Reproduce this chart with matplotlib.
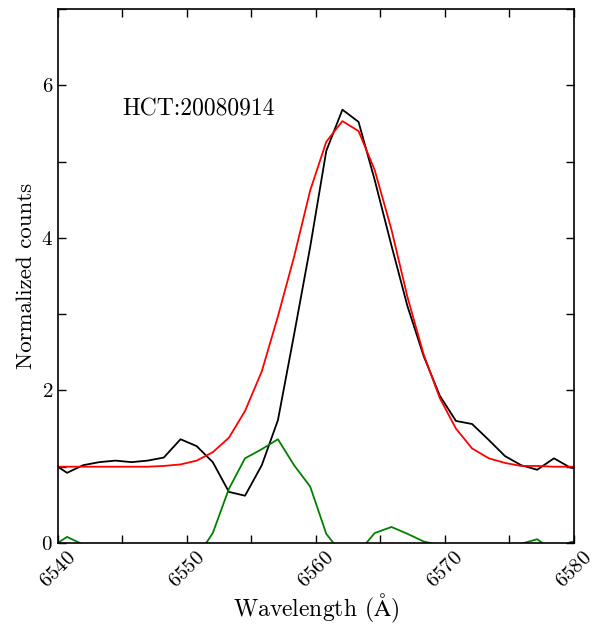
import matplotlib
matplotlib.use('Agg')
import matplotlib.pyplot as plt
from matplotlib.ticker import MultipleLocator

plt.rcParams['font.family'] = ['cmr10', 'DejaVu Serif']
plt.rcParams['mathtext.fontset'] = 'cm'
plt.rcParams['axes.unicode_minus'] = False
plt.rcParams['axes.formatter.use_mathtext'] = True

# wavelength grid (A)
wave = [6539.45, 6540.70, 6541.95, 6543.20, 6544.45, 6545.70, 6546.95, 6548.20,
        6549.50, 6550.75, 6552.00, 6553.25, 6554.50, 6555.80, 6557.05, 6558.30,
        6559.55, 6560.80, 6562.05, 6563.30, 6564.55, 6565.85, 6567.10, 6568.35,
        6569.60, 6570.85, 6572.10, 6573.40, 6574.65, 6575.90, 6577.15, 6578.45,
        6579.70, 6580.95]

# observed profile (black)
observed = [1.06, 0.92, 1.02, 1.06, 1.08, 1.06, 1.08, 1.12,
            1.36, 1.27, 1.06, 0.67, 0.62, 1.02, 1.61, 2.73,
            3.88, 5.14, 5.68, 5.52, 4.76, 3.90, 3.10, 2.45,
            1.93, 1.60, 1.56, 1.35, 1.14, 1.02, 0.96, 1.11,
            0.99, 0.95]

# template / fit (red)
template = [1.00, 1.00, 1.00, 1.00, 1.00, 1.00, 1.00, 1.01,
            1.03, 1.08, 1.19, 1.38, 1.73, 2.25, 2.97, 3.75,
            4.62, 5.26, 5.53, 5.40, 4.89, 4.11, 3.22, 2.47,
            1.90, 1.50, 1.24, 1.11, 1.05, 1.01, 1.01, 1.00,
            1.00, 1.00]

# difference (green)
diff = [-0.06, 0.08, -0.02, -0.06, -0.08, -0.06, -0.08, -0.11,
        -0.33, -0.19, 0.13, 0.71, 1.11, 1.23, 1.36, 1.02,
        0.74, 0.12, -0.15, -0.12, 0.13, 0.21, 0.12, 0.02,
        -0.03, -0.10, -0.32, -0.24, -0.09, -0.01, 0.05, -0.11,
        0.01, 0.05]

fig = plt.figure(figsize=(5.99, 6.24), dpi=100)
ax = fig.add_axes([0.0968, 0.1298, 0.8614, 0.8558])

ax.plot(wave, observed, color='k', lw=1.3)
ax.plot(wave, template, color='r', lw=1.3)
ax.plot(wave, diff, color='g', lw=1.3)

ax.set_xlim(6540, 6580)
ax.set_ylim(0, 7)

ax.xaxis.set_major_locator(MultipleLocator(10))
ax.xaxis.set_minor_locator(MultipleLocator(5))
ax.yaxis.set_major_locator(MultipleLocator(2))
ax.yaxis.set_minor_locator(MultipleLocator(1))
ax.tick_params(which='both', direction='in', top=True, right=True,
               length=6, width=1, labelsize=15)
ax.tick_params(axis='x', which='major', pad=4)
for lab in ax.get_xticklabels():
    lab.set_rotation(45)
for sp in ax.spines.values():
    sp.set_linewidth(1.2)

ax.text(6545.0, 5.68, 'HCT:20080914', fontsize=17, va='center', ha='left')

ax.set_xlabel(r'Wavelength ($\mathrm{\AA}$)', fontsize=17, va='center')
ax.xaxis.set_label_coords(0.5, -0.122)
ax.set_ylabel('Normalized counts', fontsize=16.5)

fig.savefig('out.png', dpi=100)
